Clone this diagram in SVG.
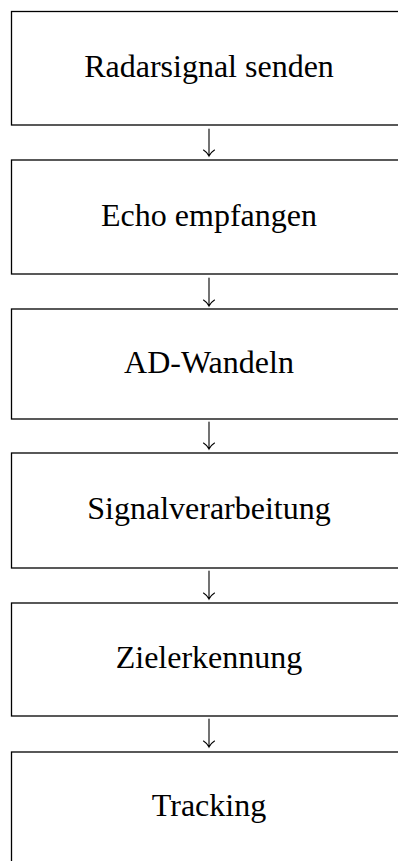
<svg xmlns="http://www.w3.org/2000/svg" width="398" height="861" viewBox="0 0 398 861">
  <style>
    .box { fill: #ffffff; stroke: #000000; stroke-width: 1.3; }
    .label { font-family: "Liberation Serif", "Times New Roman", serif; font-size: 32px; fill: #000000; text-anchor: middle; }
    .conn { fill: none; stroke: #000000; stroke-width: 1.1; stroke-linecap: round; }
  </style>
  <rect width="398" height="861" fill="#ffffff"/>

  <g id="node-radarsignal">
    <rect class="box" x="11.5" y="11.5" width="395" height="113.5"/>
    <text class="label" x="209" y="76.5">Radarsignal senden</text>
  </g>
  <g id="node-echo">
    <rect class="box" x="11.5" y="160" width="395" height="114"/>
    <text class="label" x="209" y="225.5">Echo empfangen</text>
  </g>
  <g id="node-ad">
    <rect class="box" x="11.5" y="309" width="395" height="110"/>
    <text class="label" x="209" y="372.5">AD-Wandeln</text>
  </g>
  <g id="node-signal">
    <rect class="box" x="11.5" y="453" width="395" height="115"/>
    <text class="label" x="209" y="518.5">Signalverarbeitung</text>
  </g>
  <g id="node-ziel">
    <rect class="box" x="11.5" y="603" width="395" height="113"/>
    <text class="label" x="209" y="667.5">Zielerkennung</text>
  </g>
  <g id="node-tracking">
    <rect class="box" x="11.5" y="752" width="395" height="120"/>
    <text class="label" x="209" y="815.5">Tracking</text>
  </g>

  <g id="connectors">
    <path class="conn" d="M209,129 V156 M203.5,150 Q207.5,152.5 209,156 Q210.5,152.5 214.5,150"/>
    <path class="conn" d="M209,278 V306 M203.5,300 Q207.5,302.5 209,306 Q210.5,302.5 214.5,300"/>
    <path class="conn" d="M209,422 V449 M203.5,443 Q207.5,445.5 209,449 Q210.5,445.5 214.5,443"/>
    <path class="conn" d="M209,571 V599 M203.5,593 Q207.5,595.5 209,599 Q210.5,595.5 214.5,593"/>
    <path class="conn" d="M209,719 V747 M203.5,741 Q207.5,743.5 209,747 Q210.5,743.5 214.5,741"/>
  </g>
</svg>
